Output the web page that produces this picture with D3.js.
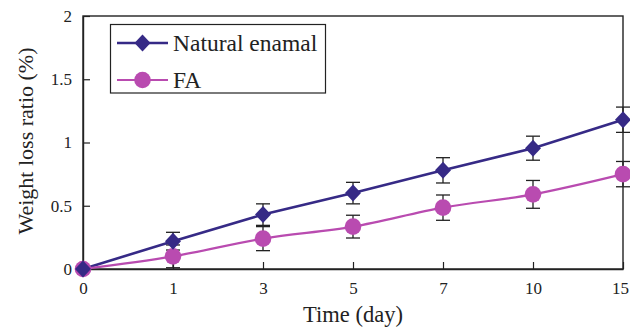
<!DOCTYPE html>
<html>
<head>
<meta charset="utf-8">
<script src="https://cdn.jsdelivr.net/npm/d3@7"></script>
<style>
  body { margin: 0; background: #fff; }
  svg text { fill: #222; }
</style>
</head>
<body>
<div id="chart"></div>
<script>
// data
const days = ['0', '1', '3', '5', '7', '10', '15']
const natural = [0, 0.22, 0.43, 0.60, 0.78, 0.955, 1.18]
const naturalErr = [0, 0.07, 0.085, 0.085, 0.10, 0.095, 0.10]
const fa = [0, 0.10, 0.24, 0.335, 0.485, 0.59, 0.75]
const faErr = [0, 0.09, 0.095, 0.09, 0.10, 0.11, 0.10]
const yTicks = [0, 0.5, 1, 1.5, 2]

const width = 630, height = 330
const m = { top: 16, right: 7, bottom: 61, left: 83 }
const serif = "'Times New Roman', Times, 'Liberation Serif', 'DejaVu Serif', serif"

const svg = d3.select('#chart').append('svg')
  .attr('width', width)
  .attr('height', height)
  .style('font-family', serif)

const x = d3.scalePoint()
  .domain(days)
  .range([m.left, width - m.right])

const y = d3.scaleLinear()
  .domain([0, 2])
  .range([height - m.bottom, m.top])

// frame
svg.append('rect')
  .attr('x', m.left)
  .attr('y', m.top)
  .attr('width', width - m.right - m.left)
  .attr('height', height - m.bottom - m.top)
  .attr('fill', 'none')
  .attr('stroke', '#222')
  .attr('stroke-width', 1.4)

// axes with inward ticks
const xAxis = svg.append('g')
  .attr('transform', 'translate(0,' + (height - m.bottom) + ')')
  .call(d3.axisBottom(x).tickSizeInner(-7).tickSizeOuter(0).tickPadding(13))
xAxis.attr('font-family', null).style('font-family', serif)
xAxis.select('.domain').attr('stroke', '#222').attr('stroke-width', 1.4)
xAxis.selectAll('line').attr('stroke', '#222').attr('stroke-width', 1.2)
xAxis.selectAll('text').attr('font-size', 17).attr('fill', '#222')
xAxis.selectAll('text').filter(d => d === '15').attr('dx', -3)

const yAxis = svg.append('g')
  .attr('transform', 'translate(' + m.left + ',0)')
  .call(d3.axisLeft(y).tickValues(yTicks).tickFormat(d3.format('')).tickSizeInner(-7).tickSizeOuter(0).tickPadding(11))
yAxis.attr('font-family', null).style('font-family', serif)
yAxis.select('.domain').attr('stroke', '#222').attr('stroke-width', 1.4)
yAxis.selectAll('line').attr('stroke', '#222').attr('stroke-width', 1.2)
yAxis.selectAll('text').attr('font-size', 17).attr('fill', '#222')

// axis titles
svg.append('text')
  .attr('x', (m.left + width - m.right) / 2)
  .attr('y', 322)
  .attr('text-anchor', 'middle')
  .attr('font-size', 22.5)
  .text('Time (day)')

svg.append('text')
  .attr('transform', 'translate(33,' + 141 + ') rotate(-90)')
  .attr('text-anchor', 'middle')
  .attr('font-size', 22)
  .text('Weight loss ratio (%)')

const series = [
  { name: 'Natural enamal', values: natural, err: naturalErr, color: '#362a86', shape: 'diamond', lw: 2.6, curve: d3.curveLinear },
  { name: 'FA', values: fa, err: faErr, color: '#b94bb0', shape: 'circle', lw: 2.2, curve: d3.curveMonotoneX }
]

function drawMarker (g, s, cx, cy) {
  if (s.shape === 'diamond') {
    g.append('path')
      .attr('d', 'M' + cx + ',' + (cy - 8.5) + 'L' + (cx + 8) + ',' + cy + 'L' + cx + ',' + (cy + 8.5) + 'L' + (cx - 8) + ',' + cy + 'Z')
      .attr('fill', s.color)
  } else {
    g.append('circle')
      .attr('cx', cx)
      .attr('cy', cy)
      .attr('r', 8.3)
      .attr('fill', s.color)
  }
}

// error bars first, then lines and markers on top
series.forEach(s => {
  const eb = svg.append('g')
  days.forEach((d, i) => {
    if (!s.err[i]) return
    const cx = x(d)
    const top = y(s.values[i] + s.err[i])
    const bot = y(s.values[i] - s.err[i])
    eb.append('line').attr('x1', cx).attr('x2', cx).attr('y1', top).attr('y2', bot)
      .attr('stroke', '#222').attr('stroke-width', 1.3)
    ;[top, bot].forEach(yy => {
      eb.append('line').attr('x1', cx - 7).attr('x2', cx + 7).attr('y1', yy).attr('y2', yy)
        .attr('stroke', '#222').attr('stroke-width', 1.3)
    })
  })
})

series.forEach(s => {
  const line = d3.line()
    .x((v, i) => x(days[i]))
    .y(v => y(v))
    .curve(s.curve)
  svg.append('path')
    .datum(s.values)
    .attr('d', line)
    .attr('fill', 'none')
    .attr('stroke', s.color)
    .attr('stroke-width', s.lw)
})

series.slice().reverse().forEach(s => {
  const g = svg.append('g')
  s.values.forEach((v, i) => drawMarker(g, s, x(days[i]), y(v)))
})

// legend
const legend = svg.append('g')
legend.append('rect')
  .attr('x', 110.5)
  .attr('y', 24.5)
  .attr('width', 215)
  .attr('height', 68.5)
  .attr('fill', '#fff')
  .attr('stroke', '#222')
  .attr('stroke-width', 1.2)

series.forEach((s, i) => {
  const ly = 43 + i * 37
  legend.append('line')
    .attr('x1', 117).attr('x2', 168).attr('y1', ly).attr('y2', ly)
    .attr('stroke', s.color).attr('stroke-width', s.lw)
  drawMarker(legend, s, 142.5, ly)
  legend.append('text')
    .attr('x', 173)
    .attr('y', ly + 7.5)
    .attr('font-size', 23.5)
    .text(s.name)
})
</script>
</body>
</html>
